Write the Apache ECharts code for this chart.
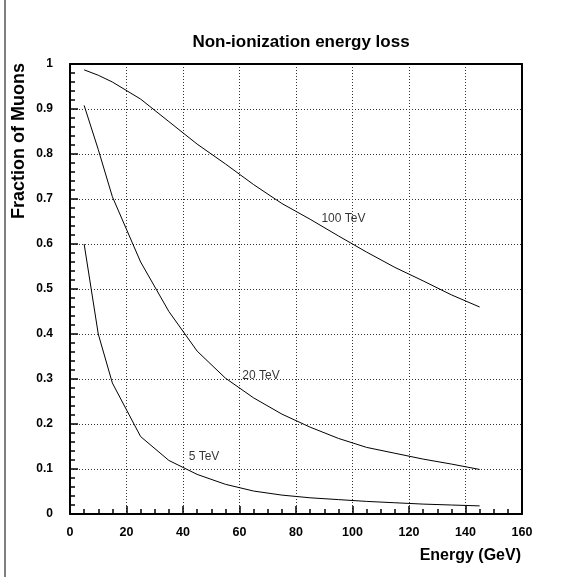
<!DOCTYPE html>
<html><head><meta charset="utf-8">
<script src="https://cdn.jsdelivr.net/npm/echarts@6/dist/echarts.min.js"></script>
<style>html,body{margin:0;padding:0;background:#fff;}#c{width:578px;height:577px;}</style>
</head><body><div id="c"></div>
<script>
const energies = [5, 10, 15, 25, 35, 45, 55, 65, 75, 85, 95, 105, 115, 125, 135, 145];
const frac5TeV   = [0.600, 0.400, 0.291, 0.172, 0.119, 0.088, 0.066, 0.051, 0.042, 0.036, 0.032, 0.028, 0.025, 0.022, 0.020, 0.018];
const frac20TeV  = [0.908, 0.810, 0.705, 0.560, 0.450, 0.362, 0.302, 0.258, 0.222, 0.193, 0.168, 0.148, 0.135, 0.122, 0.111, 0.099];
const frac100TeV = [0.987, 0.975, 0.960, 0.922, 0.872, 0.822, 0.778, 0.732, 0.690, 0.655, 0.618, 0.582, 0.548, 0.518, 0.487, 0.460];
const curveNames = ['5 TeV', '20 TeV', '100 TeV'];
const labelX = [42, 61, 89];
const labelY = [0.127, 0.307, 0.657];

const font = 'Liberation Sans, Arial, Helvetica, sans-serif';
function pairs(ys){ return energies.map((e,i)=>[e, ys[i]]); }
const lineStyle = {color:'#000', width:1};
const series = [frac5TeV, frac20TeV, frac100TeV].map((ys,i)=>({
  type:'line', name:curveNames[i], data:pairs(ys), showSymbol:false, symbol:'none',
  lineStyle:lineStyle, silent:true, z:3
}));
series.push({
  type:'scatter', symbolSize:0, silent:true, z:4,
  data: curveNames.map((n,i)=>({value:[labelX[i], labelY[i]], name:n})),
  label:{show:true, position:'right', distance:0, formatter:p=>p.name, color:'#000', fontFamily:font, fontSize:12}
});

const frameAxis = {
  axisLine:{show:true, onZero:false, lineStyle:{color:'#000', width:2}},
  axisTick:{show:false}, minorTick:{show:false}, axisLabel:{show:false}, splitLine:{show:false}
};

const chart = echarts.init(document.getElementById('c'), null, {renderer:'canvas'});
chart.setOption({
  animation:false,
  backgroundColor:'#fff',
  title:{text:'Non-ionization energy loss', left:296, top:29, textAlign:'center',
    textStyle:{fontFamily:font, fontWeight:'bold', fontSize:17, color:'#000'}},
  grid:{left:70, right:56, top:64, bottom:63},
  xAxis:[{type:'value', min:0, max:160, interval:20, position:'bottom',
    axisLine:{show:true, onZero:false, lineStyle:{color:'#000', width:2}},
    axisTick:{show:true, inside:true, length:8, lineStyle:{color:'#000', width:1.5}},
    minorTick:{show:true, splitNumber:4, length:5, lineStyle:{color:'#000', width:1.5}},
    splitLine:{show:true, lineStyle:{color:'#333', type:[1,2], width:1}},
    axisLabel:{color:'#000', fontFamily:font, fontWeight:'bold', fontSize:12.5, margin:12}
  }, Object.assign({type:'value', min:0, max:160, position:'top'}, frameAxis)],
  yAxis:[{type:'value', min:0, max:1, interval:0.1, position:'left',
    axisLine:{show:true, onZero:false, lineStyle:{color:'#000', width:2}},
    axisTick:{show:true, inside:true, length:8, lineStyle:{color:'#000', width:1.5}},
    minorTick:{show:true, splitNumber:5, length:5, lineStyle:{color:'#000', width:1.5}},
    splitLine:{show:true, lineStyle:{color:'#333', type:[1,2], width:1}},
    axisLabel:{color:'#000', fontFamily:font, fontWeight:'bold', fontSize:12, margin:17,
      formatter:v=>(Math.round(v*10)/10).toString()}
  }, Object.assign({type:'value', min:0, max:1, position:'right'}, frameAxis)],
  graphic:[
    {type:'line', shape:{x1:5, y1:0, x2:5, y2:577}, style:{stroke:'#555', lineWidth:1.5}},
    {type:'text', x:19, y:63, rotation:Math.PI/2,
      style:{text:'Fraction of Muons', font:'bold 18px '+font, fill:'#000', textAlign:'right', textVerticalAlign:'middle'}},
    {type:'text', x:521, y:556,
      style:{text:'Energy (GeV)', font:'bold 16px '+font, fill:'#000', textAlign:'right', textVerticalAlign:'middle'}}
  ],
  series:series
});
</script></body></html>
